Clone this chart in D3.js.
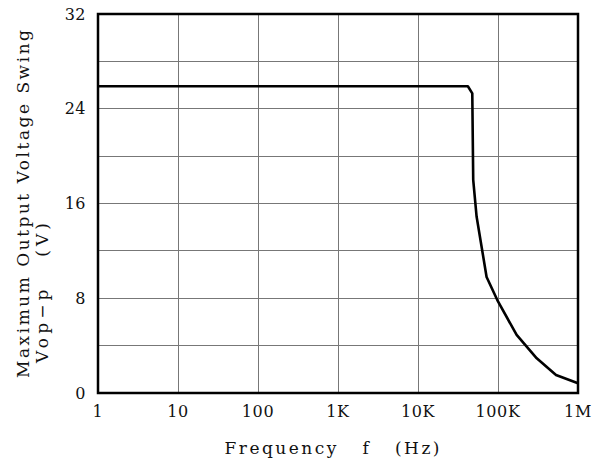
<!DOCTYPE html>
<html><head><meta charset="utf-8">
<script src="https://cdn.jsdelivr.net/npm/d3@7/dist/d3.min.js"></script>
<style>
body{margin:0;background:#fff;}
svg text{font-family:"DejaVu Serif","Liberation Serif",serif;fill:#111;}
</style></head>
<body><svg id="c" width="598" height="464"></svg>
<script>
const freq = [1, 42000, 47700, 49000, 54000, 72000, 98000, 171000, 305000, 531000, 1000000];
const vout = [25.9, 25.9, 25.3, 18.0, 14.9, 9.8, 7.85, 4.9, 2.93, 1.52, 0.82];
const xTicks = [1, 10, 100, 1000, 10000, 100000, 1000000];
const xTickLabels = ["1", "10", "100", "1K", "10K", "100K", "1M"];
const yGrid = [0, 4, 8, 12, 16, 20, 24, 28, 32];
const yTickLabels = [0, 8, 16, 24, 32];

const svg = d3.select("#c");
const L = 98, R = 578, T = 14, B = 393;
const x = d3.scaleLog().domain([1, 1e6]).range([L, R]);
const y = d3.scaleLinear().domain([0, 32]).range([B, T]);

// grid
svg.append("g").selectAll("line").data(xTicks.slice(1, -1)).join("line")
  .attr("x1", d => x(d)).attr("x2", d => x(d)).attr("y1", T).attr("y2", B)
  .attr("stroke", "#777").attr("stroke-width", 1).attr("shape-rendering", "crispEdges");
svg.append("g").selectAll("line").data(yGrid.slice(1, -1)).join("line")
  .attr("x1", L).attr("x2", R).attr("y1", d => y(d)).attr("y2", d => y(d))
  .attr("stroke", "#777").attr("stroke-width", 1).attr("shape-rendering", "crispEdges");

// frame
svg.append("rect").attr("x", L).attr("y", T).attr("width", R - L).attr("height", B - T)
  .attr("fill", "none").attr("stroke", "#000").attr("stroke-width", 2.5);

// curve
const line = d3.line().x((d, i) => x(freq[i])).y(d => y(d));
svg.append("path").attr("d", line(vout)).attr("fill", "none")
  .attr("stroke", "#000").attr("stroke-width", 2.6).attr("stroke-linejoin", "round");

// x tick labels
svg.append("g").selectAll("text").data(xTicks).join("text")
  .attr("x", d => x(d)).attr("y", 417).attr("text-anchor", "middle")
  .attr("font-size", 16).attr("letter-spacing", 0.6)
  .text((d, i) => xTickLabels[i]);

// y tick labels
svg.append("g").selectAll("text").data(yTickLabels).join("text")
  .attr("x", 86).attr("y", d => y(d) + 5.5).attr("text-anchor", "end")
  .attr("font-size", 16).attr("letter-spacing", 0.5)
  .text(d => d);

// axis titles
svg.append("text").attr("x", 332).attr("y", 454).attr("text-anchor", "middle")
  .attr("font-size", 17).attr("textLength", 215).attr("lengthAdjust", "spacing")
  .attr("xml:space", "preserve").text("Frequency   f   (Hz)");

svg.append("text").attr("transform", "translate(29,204) rotate(-90)")
  .attr("text-anchor", "middle").attr("font-size", 17)
  .attr("textLength", 348).attr("lengthAdjust", "spacing")
  .text("Maximum Output Voltage Swing");
svg.append("text").attr("transform", "translate(48,293) rotate(-90)")
  .attr("text-anchor", "middle").attr("font-size", 17)
  .attr("textLength", 140).attr("lengthAdjust", "spacing")
  .attr("xml:space", "preserve").text("Vop\u2212p   (V)");
</script></body></html>
